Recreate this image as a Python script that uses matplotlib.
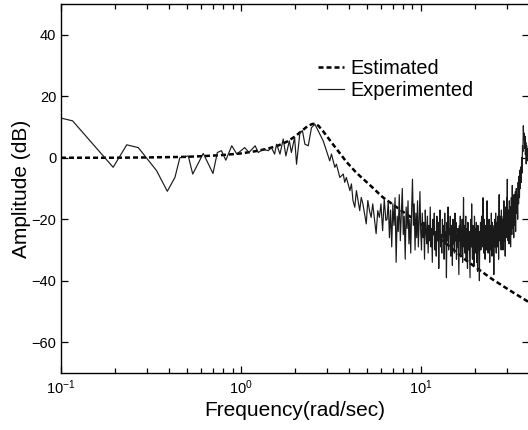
"""Bode amplitude plot: estimated model vs experimental response."""
import matplotlib
matplotlib.use("Agg")
import matplotlib.pyplot as plt
from matplotlib.ticker import LogLocator

plt.rcParams["font.family"] = ["Liberation Sans", "DejaVu Sans"]
plt.rcParams["mathtext.fontset"] = "custom"
plt.rcParams["mathtext.rm"] = "Liberation Sans"

# estimated (identified model) amplitude, dB
est_freq = [0.1, 0.2, 0.3, 0.4, 0.5, 0.6, 0.7, 0.8, 1.0, 1.2, 1.4, 1.6, 1.8,
            2.0, 2.2, 2.35, 2.5, 2.6, 2.7, 2.85, 3.0, 3.2, 3.4, 3.6, 3.86,
            4.39, 5.2, 6.14, 7.94, 10.0, 13.9, 18.0, 25.0, 32.0, 38.8, 40.0]
est_amp = [0.0, 0.0, 0.1, 0.2, 0.3, 0.5, 0.7, 0.9, 1.4, 2.1, 2.9, 3.9, 5.2,
           6.9, 8.9, 10.3, 11.0, 11.0, 10.4, 8.8, 7.1, 4.9, 2.9, 1.0, -1.3,
           -4.9, -8.8, -12.8, -17.5, -21.5, -28.0, -33.5, -39.5, -43.5, -46.5,
           -47.0]

# experimental amplitude, dB (sparse part below ~6.5 rad/s)
exp_freq_low = [0.1, 0.116, 0.195, 0.232, 0.269, 0.34, 0.39, 0.43, 0.458,
                0.51, 0.54, 0.618, 0.70, 0.74, 0.78, 0.825, 0.89, 0.95, 1.05,
                1.11, 1.2, 1.25, 1.33, 1.42, 1.48, 1.54, 1.58, 1.65, 1.72,
                1.78, 1.86, 1.91, 1.99, 2.04, 2.13, 2.2, 2.27, 2.37, 2.47,
                2.58, 2.69, 2.87, 2.99, 3.12, 3.19, 3.33, 3.4, 3.55, 3.71,
                3.78, 3.86, 4.04, 4.12, 4.2, 4.3, 4.39, 4.58, 4.67, 4.77,
                4.98, 5.08, 5.19, 5.3, 5.41, 5.65, 5.77, 5.89, 6.01, 6.14,
                6.27, 6.4]
exp_amp_low = [12.9, 12.0, -3.1, 4.2, 3.3, -4.2, -10.9, -6.4, 0.0,
               0.6, -5.3, 1.4, -5.1, 1.7, 2.3, -0.8, 3.9, 1.2, 3.3,
               1.7, 3.9, 1.7, 2.8, 2.3, 3.3, 1.2, 4.4, 1.2, 6.1,
               0.6, 5.5, 1.7, 6.6, -2.1, 8.2, 8.8, 4.4, 3.9, 9.8,
               10.9, 8.8, 5.5, 2.3, -1.0, 1.2, -3.1, -2.1, -6.4, -5.3,
               -8.0, -6.4, -10.7, -8.5, -13.9, -16.1, -10.7, -17.2, -12.9, -15.0,
               -21.5, -13.9, -17.2, -19.4, -15.0, -24.7, -17.2, -19.4, -15.0, -23.7,
               -13.4, -20.4]

# experimental amplitude, dB (dense noisy part 6.5 - 40 rad/s)
exp_freq_high = [
    6.5, 6.6, 6.7, 6.8, 6.9, 7.0, 7.1, 7.2, 7.3, 7.4, 7.5, 7.6, 7.7, 7.8,
    7.9, 8.0, 8.1, 8.2, 8.3, 8.4, 8.5, 8.6, 8.7, 8.8, 8.9, 9.0, 9.1, 9.2,
    9.3, 9.4, 9.5, 9.6, 9.7, 9.8, 9.9, 10.0,
    10.1, 10.2, 10.3, 10.4, 10.5, 10.6, 10.7, 10.8, 10.9, 11.0,
    11.1, 11.2, 11.3, 11.4, 11.5, 11.6, 11.7, 11.8, 11.9, 12.0,
    12.1, 12.2, 12.3, 12.4, 12.5, 12.6, 12.7, 12.8, 12.9, 13.0,
    13.1, 13.2, 13.3, 13.4, 13.5, 13.6, 13.7, 13.8, 13.9, 14.0,
    14.1, 14.2, 14.3, 14.4, 14.5, 14.6, 14.7, 14.8, 14.9, 15.0,
    15.1, 15.2, 15.3, 15.4, 15.5, 15.6, 15.7, 15.8, 15.9, 16.0,
    16.1, 16.2, 16.3, 16.4, 16.5, 16.6, 16.7, 16.8, 16.9, 17.0,
    17.1, 17.2, 17.3, 17.4, 17.5, 17.6, 17.7, 17.8, 17.9, 18.0,
    18.1, 18.2, 18.3, 18.4, 18.5, 18.6, 18.7, 18.8, 18.9, 19.0,
    19.1, 19.2, 19.3, 19.4, 19.5, 19.6, 19.7, 19.8, 19.9, 20.0,
    20.1, 20.2, 20.3, 20.4, 20.5, 20.6, 20.7, 20.8, 20.9, 21.0,
    21.1, 21.2, 21.3, 21.4, 21.5, 21.6, 21.7, 21.8, 21.9, 22.0,
    22.1, 22.2, 22.3, 22.4, 22.5, 22.6, 22.7, 22.8, 22.9, 23.0,
    23.1, 23.2, 23.3, 23.4, 23.5, 23.6, 23.7, 23.8, 23.9, 24.0,
    24.1, 24.2, 24.3, 24.4, 24.5, 24.6, 24.7, 24.8, 24.9, 25.0,
    25.1, 25.2, 25.3, 25.4, 25.5, 25.6, 25.7, 25.8, 25.9, 26.0,
    26.1, 26.2, 26.3, 26.4, 26.5, 26.6, 26.7, 26.8, 26.9, 27.0,
    27.1, 27.2, 27.3, 27.4, 27.5, 27.6, 27.7, 27.8, 27.9, 28.0,
    28.1, 28.2, 28.3, 28.4, 28.5, 28.6, 28.7, 28.8, 28.9, 29.0,
    29.1, 29.2, 29.3, 29.4, 29.5, 29.6, 29.7, 29.8, 29.9, 30.0,
    30.1, 30.2, 30.3, 30.4, 30.5, 30.6, 30.7, 30.8, 30.9, 31.0,
    31.1, 31.2, 31.3, 31.4, 31.5, 31.6, 31.7, 31.8, 31.9, 32.0,
    32.1, 32.2, 32.3, 32.4, 32.5, 32.6, 32.7, 32.8, 32.9, 33.0,
    33.1, 33.2, 33.3, 33.4, 33.5, 33.6, 33.7, 33.8, 33.9, 34.0,
    34.2, 34.4, 34.6, 34.8, 35.0, 35.2, 35.4, 35.6, 35.8, 36.0, 36.2, 36.4,
    36.6, 36.8, 37.0, 37.2, 37.4, 37.6, 37.8, 38.0, 38.2, 38.4, 38.6, 38.8,
    39.0, 39.2, 39.4, 39.6, 39.8, 40.0]
exp_amp_high = [
    -20, -14, -26, -17, -29, -15, -22, -13, -34, -19, -24, -12, -27, -18,
    -10, -25, -19, -33, -16, -23, -14, -28, -20, -31, -17, -7, -22, -15,
    -30, -18, -26, -14, -29, -21, -11, -24,
    -30, -18, -26, -21, -33, -17, -24, -28, -19, -31,
    -22, -27, -16, -29, -23, -34, -20, -25, -18, -30,
    -24, -32, -19, -27, -21, -36, -23, -17, -29, -25,
    -31, -20, -26, -22, -33, -18, -28, -24, -39, -21,
    -27, -16, -30, -23, -25, -19, -32, -26, -22, -35,
    -20, -28, -24, -31, -18, -27, -21, -33, -25, -29,
    -23, -30, -38, -22, -27, -19, -32, -25, -28, -20,
    -34, -24, -13, -29, -22, -31, -26, -19, -33, -23,
    -28, -36, -21, -26, -30, -24, -32, -39, -25, -20,
    -29, -15, -27, -33, -22, -30, -24, -35, -19, -26,
    -31, -23, -28, -21, -34, -25, -37, -22, -29, -26,
    -32, -40, -24, -28, -21, -30, -25, -19, -27, -23,
    -29, -13, -26, -31, -20, -27, -24, -33, -22, -28,
    -25, -30, -18, -14, -27, -23, -31, -21, -26, -20,
    -29, -34, -22, -27, -24, -30, -18, -25, -32, -21,
    -27, -23, -30, -26, -38, -22, -28, -20, -25, -29,
    -18, -24, -31, -21, -27, -23, -29, -19, -26, -22,
    -33, -24, -12, -27, -21, -25, -19, -28, -23, -30,
    -17, -26, -22, -28, -20, -24, -30, -19, -25, -14,
    -23, -27, -18, -25, -32, -20, -16, -26, -21, -24,
    -13, -19, -7, -25, -22, -27, -17, -23, -20, -28,
    -14, -21, -19, -24, -16, -29, -18, -22, -13, -20,
    -25, -15, -9, -21, -18, -14, -23, -17, -26, -12,
    -20, -16, -22, -13, -19, -11, -24, -15, -18, -10,
    -18, -12, -20, -8, -15, -6, -13, -4, -10, -3, -8, 0,
    -5, 4, 2, 10.4, 6, 8, 3, 7, 1, 5, -2, 4,
    0, 3, -1, 2, 0, 1]

exp_freq = exp_freq_low + exp_freq_high
exp_amp = exp_amp_low + exp_amp_high

fig = plt.figure(figsize=(5.28, 4.30), dpi=100)
ax = fig.add_axes([61 / 528, 1 - 373 / 430, 468 / 528, 369 / 430])

ax.plot(est_freq, est_amp, color="black", linewidth=1.8,
        linestyle=(0, (2.0, 1.2)), label="Estimated")
ax.plot(exp_freq, exp_amp, color="#1a1a1a", linewidth=0.85,
        label="Experimented")

ax.set_xscale("log")
ax.set_xlim(0.1, 40)
ax.set_ylim(-70, 50)
ax.set_yticks([-60, -40, -20, 0, 20, 40])
ax.xaxis.set_minor_locator(LogLocator(base=10, subs=range(2, 10)))

ax.tick_params(which="both", direction="in", top=True, right=True,
               width=0.9, labelsize=10.5)
ax.tick_params(which="major", length=5)
ax.tick_params(which="minor", length=3.5)
ax.tick_params(axis="x", pad=4)
for spine in ax.spines.values():
    spine.set_linewidth(1.0)

ax.set_xlabel("Frequency(rad/sec)", fontsize=15, labelpad=3)
ax.set_ylabel("Amplitude (dB)", fontsize=15, labelpad=0.5)

ax.legend(loc="upper left", bbox_to_anchor=(0.549, 0.851), frameon=False,
          fontsize=14.3, handlelength=1.3, handletextpad=0.35,
          labelspacing=0.15, borderpad=0, borderaxespad=0)

fig.savefig("out.png", dpi=100)
